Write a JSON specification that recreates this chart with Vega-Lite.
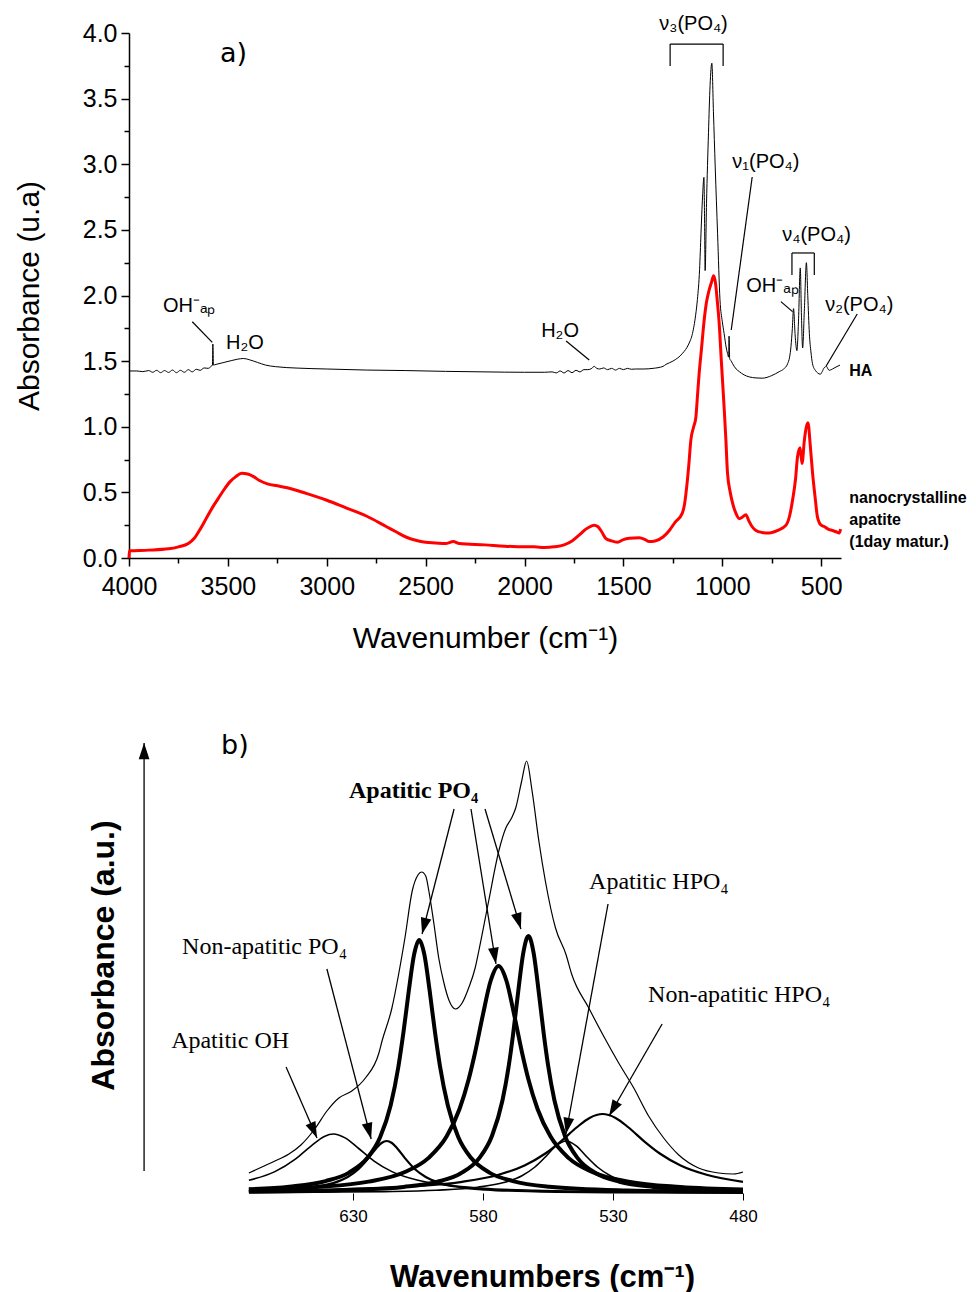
{
  "$schema": "https://vega.github.io/schema/vega-lite/v6.json",
  "background": "white",
  "padding": {"left": 14, "top": 13, "right": 0, "bottom": 0},
  "config": {
    "view": {"stroke": null},
    "font": "Liberation Sans",
    "axis": {"grid": false, "domainColor": "black", "tickColor": "black", "labelColor": "black", "titleColor": "black"}
  },
  "spacing": 185,
  "bounds": "flush",
  "datasets": {
    "ir": [
      {"s":"HA","x":4000,"y":1.425},{"s":"HA","x":3960,"y":1.425},{"s":"HA","x":3930,"y":1.42},{"s":"HA","x":3900,"y":1.428},{"s":"HA","x":3880,"y":1.415},{"s":"HA","x":3860,"y":1.43},{"s":"HA","x":3840,"y":1.412},{"s":"HA","x":3820,"y":1.428},{"s":"HA","x":3800,"y":1.414},{"s":"HA","x":3780,"y":1.432},{"s":"HA","x":3760,"y":1.412},{"s":"HA","x":3740,"y":1.43},{"s":"HA","x":3720,"y":1.415},{"s":"HA","x":3700,"y":1.435},{"s":"HA","x":3680,"y":1.418},{"s":"HA","x":3660,"y":1.438},{"s":"HA","x":3640,"y":1.43},{"s":"HA","x":3620,"y":1.448},{"s":"HA","x":3600,"y":1.445},{"s":"HA","x":3585,"y":1.46},{"s":"HA","x":3578,"y":1.47},{"s":"HA","x":3576,"y":1.63},{"s":"HA","x":3573,"y":1.47},{"s":"HA","x":3560,"y":1.475},{"s":"HA","x":3520,"y":1.49},{"s":"HA","x":3480,"y":1.505},{"s":"HA","x":3450,"y":1.515},{"s":"HA","x":3420,"y":1.52},{"s":"HA","x":3390,"y":1.51},{"s":"HA","x":3350,"y":1.49},{"s":"HA","x":3310,"y":1.47},{"s":"HA","x":3260,"y":1.458},{"s":"HA","x":3150,"y":1.447},{"s":"HA","x":3000,"y":1.44},{"s":"HA","x":2800,"y":1.432},{"s":"HA","x":2600,"y":1.428},{"s":"HA","x":2400,"y":1.422},{"s":"HA","x":2200,"y":1.418},{"s":"HA","x":2000,"y":1.415},{"s":"HA","x":1900,"y":1.415},{"s":"HA","x":1860,"y":1.418},{"s":"HA","x":1840,"y":1.41},{"s":"HA","x":1820,"y":1.425},{"s":"HA","x":1800,"y":1.41},{"s":"HA","x":1780,"y":1.428},{"s":"HA","x":1760,"y":1.412},{"s":"HA","x":1740,"y":1.43},{"s":"HA","x":1720,"y":1.418},{"s":"HA","x":1700,"y":1.435},{"s":"HA","x":1680,"y":1.435},{"s":"HA","x":1660,"y":1.445},{"s":"HA","x":1648,"y":1.46},{"s":"HA","x":1635,"y":1.445},{"s":"HA","x":1620,"y":1.44},{"s":"HA","x":1600,"y":1.448},{"s":"HA","x":1580,"y":1.435},{"s":"HA","x":1560,"y":1.445},{"s":"HA","x":1540,"y":1.432},{"s":"HA","x":1520,"y":1.445},{"s":"HA","x":1500,"y":1.435},{"s":"HA","x":1480,"y":1.445},{"s":"HA","x":1460,"y":1.438},{"s":"HA","x":1440,"y":1.44},{"s":"HA","x":1400,"y":1.44},{"s":"HA","x":1350,"y":1.445},{"s":"HA","x":1300,"y":1.46},{"s":"HA","x":1285,"y":1.475},{"s":"HA","x":1250,"y":1.5},{"s":"HA","x":1201,"y":1.56},{"s":"HA","x":1170,"y":1.63},{"s":"HA","x":1151,"y":1.71},{"s":"HA","x":1135,"y":1.85},{"s":"HA","x":1126,"y":1.97},{"s":"HA","x":1115,"y":2.2},{"s":"HA","x":1108,"y":2.47},{"s":"HA","x":1100,"y":2.75},{"s":"HA","x":1093,"y":2.9},{"s":"HA","x":1090,"y":2.6},{"s":"HA","x":1087,"y":2.19},{"s":"HA","x":1080,"y":2.7},{"s":"HA","x":1070,"y":3.24},{"s":"HA","x":1062,"y":3.6},{"s":"HA","x":1053,"y":3.77},{"s":"HA","x":1045,"y":3.4},{"s":"HA","x":1036,"y":2.98},{"s":"HA","x":1024,"y":2.47},{"s":"HA","x":1012,"y":1.97},{"s":"HA","x":1000,"y":1.8},{"s":"HA","x":991,"y":1.71},{"s":"HA","x":980,"y":1.6},{"s":"HA","x":974,"y":1.56},{"s":"HA","x":968,"y":1.53},{"s":"HA","x":966,"y":1.69},{"s":"HA","x":963,"y":1.52},{"s":"HA","x":955,"y":1.5},{"s":"HA","x":948,"y":1.48},{"s":"HA","x":930,"y":1.44},{"s":"HA","x":914,"y":1.42},{"s":"HA","x":890,"y":1.395},{"s":"HA","x":864,"y":1.38},{"s":"HA","x":830,"y":1.372},{"s":"HA","x":798,"y":1.37},{"s":"HA","x":750,"y":1.39},{"s":"HA","x":712,"y":1.42},{"s":"HA","x":690,"y":1.44},{"s":"HA","x":670,"y":1.48},{"s":"HA","x":660,"y":1.53},{"s":"HA","x":653,"y":1.61},{"s":"HA","x":646,"y":1.75},{"s":"HA","x":640,"y":1.9},{"s":"HA","x":632,"y":1.7},{"s":"HA","x":623,"y":1.58},{"s":"HA","x":615,"y":1.8},{"s":"HA","x":606,"y":2.21},{"s":"HA","x":600,"y":1.85},{"s":"HA","x":594,"y":1.6},{"s":"HA","x":585,"y":1.9},{"s":"HA","x":575,"y":2.25},{"s":"HA","x":568,"y":2.0},{"s":"HA","x":560,"y":1.71},{"s":"HA","x":552,"y":1.57},{"s":"HA","x":544,"y":1.48},{"s":"HA","x":530,"y":1.43},{"s":"HA","x":518,"y":1.41},{"s":"HA","x":505,"y":1.4},{"s":"HA","x":495,"y":1.42},{"s":"HA","x":485,"y":1.45},{"s":"HA","x":473,"y":1.46},{"s":"HA","x":466,"y":1.44},{"s":"HA","x":459,"y":1.43},{"s":"HA","x":450,"y":1.435},{"s":"HA","x":443,"y":1.44},{"s":"HA","x":425,"y":1.455},{"s":"HA","x":405,"y":1.47},
      {"s":"nano","x":4000,"y":0.0},{"s":"nano","x":3998,"y":0.055},{"s":"nano","x":3900,"y":0.06},{"s":"nano","x":3800,"y":0.07},{"s":"nano","x":3750,"y":0.085},{"s":"nano","x":3700,"y":0.11},{"s":"nano","x":3670,"y":0.15},{"s":"nano","x":3640,"y":0.22},{"s":"nano","x":3610,"y":0.3},{"s":"nano","x":3580,"y":0.38},{"s":"nano","x":3550,"y":0.45},{"s":"nano","x":3520,"y":0.52},{"s":"nano","x":3490,"y":0.58},{"s":"nano","x":3460,"y":0.62},{"s":"nano","x":3430,"y":0.645},{"s":"nano","x":3400,"y":0.64},{"s":"nano","x":3370,"y":0.62},{"s":"nano","x":3340,"y":0.59},{"s":"nano","x":3300,"y":0.565},{"s":"nano","x":3250,"y":0.55},{"s":"nano","x":3200,"y":0.535},{"s":"nano","x":3100,"y":0.49},{"s":"nano","x":3000,"y":0.44},{"s":"nano","x":2900,"y":0.38},{"s":"nano","x":2800,"y":0.32},{"s":"nano","x":2700,"y":0.24},{"s":"nano","x":2650,"y":0.2},{"s":"nano","x":2600,"y":0.16},{"s":"nano","x":2550,"y":0.135},{"s":"nano","x":2500,"y":0.12},{"s":"nano","x":2450,"y":0.115},{"s":"nano","x":2400,"y":0.11},{"s":"nano","x":2360,"y":0.125},{"s":"nano","x":2330,"y":0.11},{"s":"nano","x":2200,"y":0.1},{"s":"nano","x":2100,"y":0.09},{"s":"nano","x":2000,"y":0.085},{"s":"nano","x":1950,"y":0.085},{"s":"nano","x":1900,"y":0.08},{"s":"nano","x":1850,"y":0.085},{"s":"nano","x":1800,"y":0.1},{"s":"nano","x":1760,"y":0.13},{"s":"nano","x":1720,"y":0.18},{"s":"nano","x":1690,"y":0.22},{"s":"nano","x":1660,"y":0.245},{"s":"nano","x":1648,"y":0.25},{"s":"nano","x":1630,"y":0.24},{"s":"nano","x":1610,"y":0.2},{"s":"nano","x":1590,"y":0.15},{"s":"nano","x":1560,"y":0.13},{"s":"nano","x":1530,"y":0.12},{"s":"nano","x":1500,"y":0.14},{"s":"nano","x":1470,"y":0.15},{"s":"nano","x":1420,"y":0.155},{"s":"nano","x":1390,"y":0.14},{"s":"nano","x":1370,"y":0.125},{"s":"nano","x":1340,"y":0.13},{"s":"nano","x":1300,"y":0.16},{"s":"nano","x":1268,"y":0.21},{"s":"nano","x":1240,"y":0.27},{"s":"nano","x":1203,"y":0.34},{"s":"nano","x":1190,"y":0.42},{"s":"nano","x":1184,"y":0.49},{"s":"nano","x":1170,"y":0.7},{"s":"nano","x":1159,"y":0.9},{"s":"nano","x":1145,"y":1.0},{"s":"nano","x":1134,"y":1.07},{"s":"nano","x":1125,"y":1.25},{"s":"nano","x":1117,"y":1.41},{"s":"nano","x":1105,"y":1.6},{"s":"nano","x":1092,"y":1.81},{"s":"nano","x":1080,"y":1.95},{"s":"nano","x":1067,"y":2.04},{"s":"nano","x":1055,"y":2.1},{"s":"nano","x":1044,"y":2.15},{"s":"nano","x":1035,"y":2.1},{"s":"nano","x":1025,"y":1.95},{"s":"nano","x":1016,"y":1.79},{"s":"nano","x":1005,"y":1.5},{"s":"nano","x":991,"y":1.15},{"s":"nano","x":982,"y":0.9},{"s":"nano","x":974,"y":0.65},{"s":"nano","x":960,"y":0.5},{"s":"nano","x":945,"y":0.4},{"s":"nano","x":931,"y":0.34},{"s":"nano","x":914,"y":0.3},{"s":"nano","x":900,"y":0.31},{"s":"nano","x":881,"y":0.33},{"s":"nano","x":865,"y":0.28},{"s":"nano","x":850,"y":0.24},{"s":"nano","x":830,"y":0.21},{"s":"nano","x":800,"y":0.195},{"s":"nano","x":763,"y":0.19},{"s":"nano","x":720,"y":0.21},{"s":"nano","x":678,"y":0.25},{"s":"nano","x":660,"y":0.32},{"s":"nano","x":645,"y":0.44},{"s":"nano","x":630,"y":0.6},{"s":"nano","x":620,"y":0.77},{"s":"nano","x":607,"y":0.84},{"s":"nano","x":597,"y":0.72},{"s":"nano","x":585,"y":0.9},{"s":"nano","x":567,"y":1.03},{"s":"nano","x":555,"y":0.85},{"s":"nano","x":544,"y":0.65},{"s":"nano","x":530,"y":0.45},{"s":"nano","x":520,"y":0.32},{"s":"nano","x":510,"y":0.27},{"s":"nano","x":500,"y":0.25},{"s":"nano","x":485,"y":0.24},{"s":"nano","x":465,"y":0.22},{"s":"nano","x":444,"y":0.21},{"s":"nano","x":425,"y":0.2},{"s":"nano","x":409,"y":0.19},{"s":"nano","x":402,"y":0.22}
    ],
    "topText": [
      {"x":3828,"y":1.874,"t":"OH⁻ₐₚ"},
      {"x":3509,"y":1.592,"t":"H₂O"},
      {"x":1916,"y":1.684,"t":"H₂O"},
      {"x":1319,"y":4.023,"t":"ν₃(PO₄)"},
      {"x":950,"y":2.971,"t":"ν₁(PO₄)"},
      {"x":697,"y":2.415,"t":"ν₄(PO₄)"},
      {"x":879,"y":2.027,"t":"OH⁻ₐₚ"},
      {"x":480,"y":1.882,"t":"ν₂(PO₄)"}
    ],
    "topBold": [
      {"x":358,"y":1.387,"t":"HA"},
      {"x":358,"y":0.419,"t":"nanocrystalline\napatite\n(1day matur.)"}
    ],
    "topRules": [
      {"x":3680,"y":1.8,"x2":3579,"y2":1.643},
      {"x":1790,"y":1.653,"x2":1673,"y2":1.509},
      {"x":849,"y":2.903,"x2":955,"y2":1.737},
      {"x":704,"y":1.953,"x2":645,"y2":1.877},
      {"x":318,"y":1.859,"x2":475,"y2":1.463},
      {"x":1264,"y":3.916,"x2":996,"y2":3.916},
      {"x":1264,"y":3.749,"x2":1264,"y2":3.916},
      {"x":996,"y":3.749,"x2":996,"y2":3.916},
      {"x":648,"y":2.324,"x2":535,"y2":2.324},
      {"x":648,"y":2.156,"x2":648,"y2":2.324},
      {"x":535,"y":2.156,"x2":535,"y2":2.324}
    ],
    "topPanel": [{"x":3540,"y":3.779,"t":"a)"}],
    "fit": [
      {"c":"env","x":670,"y":0.2},{"c":"env","x":665,"y":0.26},{"c":"env","x":660,"y":0.32},{"c":"env","x":654.6,"y":0.39},{"c":"env","x":650,"y":0.48},{"c":"env","x":644.4,"y":0.65},{"c":"env","x":640,"y":0.82},{"c":"env","x":635.4,"y":0.95},{"c":"env","x":630.4,"y":1.02},{"c":"env","x":625.2,"y":1.15},{"c":"env","x":620,"y":1.4},{"c":"env","x":618.8,"y":1.52},{"c":"env","x":615,"y":1.85},{"c":"env","x":612.4,"y":2.19},{"c":"env","x":610,"y":2.55},{"c":"env","x":607.2,"y":3.02},{"c":"env","x":605,"y":3.18},{"c":"env","x":603.6,"y":3.21},{"c":"env","x":602,"y":3.17},{"c":"env","x":600.8,"y":3.02},{"c":"env","x":599,"y":2.72},{"c":"env","x":597,"y":2.35},{"c":"env","x":595,"y":2.1},{"c":"env","x":593.1,"y":1.93},{"c":"env","x":590.6,"y":1.84},{"c":"env","x":588,"y":1.9},{"c":"env","x":585.5,"y":2.05},{"c":"env","x":583,"y":2.25},{"c":"env","x":581.6,"y":2.42},{"c":"env","x":577.8,"y":2.92},{"c":"env","x":573.9,"y":3.42},{"c":"env","x":571.2,"y":3.65},{"c":"env","x":569,"y":3.75},{"c":"env","x":567.4,"y":3.85},{"c":"env","x":565.1,"y":4.12},{"c":"env","x":563.2,"y":4.32},{"c":"env","x":561.1,"y":4.02},{"c":"env","x":558.5,"y":3.52},{"c":"env","x":556,"y":3.12},{"c":"env","x":552.1,"y":2.65},{"c":"env","x":548,"y":2.38},{"c":"env","x":545.9,"y":2.19},{"c":"env","x":539.3,"y":1.85},{"c":"env","x":533.2,"y":1.55},{"c":"env","x":527.8,"y":1.3},{"c":"env","x":522,"y":1.05},{"c":"env","x":516.3,"y":0.77},{"c":"env","x":510.5,"y":0.55},{"c":"env","x":504.7,"y":0.38},{"c":"env","x":497.1,"y":0.25},{"c":"env","x":489.4,"y":0.2},{"c":"env","x":483.6,"y":0.19},{"c":"env","x":480,"y":0.21},
      {"c":"ohAp","x":670,"y":0.127},{"c":"ohAp","x":660,"y":0.214},{"c":"ohAp","x":652,"y":0.342},{"c":"ohAp","x":646,"y":0.472},{"c":"ohAp","x":641,"y":0.566},{"c":"ohAp","x":637.5,"y":0.59},{"c":"ohAp","x":633,"y":0.551},{"c":"ohAp","x":628,"y":0.45},{"c":"ohAp","x":622,"y":0.322},{"c":"ohAp","x":615,"y":0.214},{"c":"ohAp","x":605,"y":0.127},{"c":"ohAp","x":595,"y":0.081},{"c":"ohAp","x":580,"y":0.047},{"c":"ohAp","x":560,"y":0.027},{"c":"ohAp","x":540,"y":0.017},{"c":"ohAp","x":510,"y":0.01},{"c":"ohAp","x":480,"y":0.007},
      {"c":"nonApPO4","x":670,"y":0.018},{"c":"nonApPO4","x":655,"y":0.034},{"c":"nonApPO4","x":645,"y":0.059},{"c":"nonApPO4","x":637,"y":0.104},{"c":"nonApPO4","x":632,"y":0.16},{"c":"nonApPO4","x":628,"y":0.235},{"c":"nonApPO4","x":624,"y":0.349},{"c":"nonApPO4","x":621,"y":0.448},{"c":"nonApPO4","x":619,"y":0.5},{"c":"nonApPO4","x":617,"y":0.52},{"c":"nonApPO4","x":615,"y":0.5},{"c":"nonApPO4","x":613,"y":0.448},{"c":"nonApPO4","x":610,"y":0.349},{"c":"nonApPO4","x":606,"y":0.235},{"c":"nonApPO4","x":602,"y":0.16},{"c":"nonApPO4","x":597,"y":0.104},{"c":"nonApPO4","x":589,"y":0.059},{"c":"nonApPO4","x":579,"y":0.034},{"c":"nonApPO4","x":560,"y":0.016},{"c":"nonApPO4","x":530,"y":0.007},{"c":"nonApPO4","x":480,"y":0.003},
      {"c":"apPO4a","x":670,"y":0.037},{"c":"apPO4a","x":654.5,"y":0.063},{"c":"apPO4a","x":640.5,"y":0.119},{"c":"apPO4a","x":631.5,"y":0.204},{"c":"apPO4a","x":624.5,"y":0.349},{"c":"apPO4a","x":619.5,"y":0.56},{"c":"apPO4a","x":615.5,"y":0.875},{"c":"apPO4a","x":612.5,"y":1.265},{"c":"apPO4a","x":610.5,"y":1.619},{"c":"apPO4a","x":608.5,"y":2.024},{"c":"apPO4a","x":606.5,"y":2.381},{"c":"apPO4a","x":604.5,"y":2.53},{"c":"apPO4a","x":602.5,"y":2.381},{"c":"apPO4a","x":600.5,"y":2.024},{"c":"apPO4a","x":598.5,"y":1.619},{"c":"apPO4a","x":596.5,"y":1.265},{"c":"apPO4a","x":593.5,"y":0.875},{"c":"apPO4a","x":589.5,"y":0.56},{"c":"apPO4a","x":584.5,"y":0.349},{"c":"apPO4a","x":577.5,"y":0.204},{"c":"apPO4a","x":568.5,"y":0.119},{"c":"apPO4a","x":554.5,"y":0.063},{"c":"apPO4a","x":524.5,"y":0.025},{"c":"apPO4a","x":504.5,"y":0.016},{"c":"apPO4a","x":480,"y":0.01},
      {"c":"apPO4b","x":670,"y":0.032},{"c":"apPO4b","x":644,"y":0.06},{"c":"apPO4b","x":624,"y":0.114},{"c":"apPO4b","x":610,"y":0.21},{"c":"apPO4b","x":601,"y":0.349},{"c":"apPO4b","x":594,"y":0.564},{"c":"apPO4b","x":589,"y":0.84},{"c":"apPO4b","x":585.5,"y":1.135},{"c":"apPO4b","x":583,"y":1.408},{"c":"apPO4b","x":580,"y":1.784},{"c":"apPO4b","x":577,"y":2.125},{"c":"apPO4b","x":574,"y":2.27},{"c":"apPO4b","x":571,"y":2.125},{"c":"apPO4b","x":568,"y":1.784},{"c":"apPO4b","x":565,"y":1.408},{"c":"apPO4b","x":562.5,"y":1.135},{"c":"apPO4b","x":559,"y":0.84},{"c":"apPO4b","x":554,"y":0.564},{"c":"apPO4b","x":547,"y":0.349},{"c":"apPO4b","x":538,"y":0.21},{"c":"apPO4b","x":524,"y":0.114},{"c":"apPO4b","x":504,"y":0.06},{"c":"apPO4b","x":480,"y":0.034},
      {"c":"apPO4c","x":670,"y":0.0125},{"c":"apPO4c","x":645,"y":0.021},{"c":"apPO4c","x":627.5,"y":0.034},{"c":"apPO4c","x":610.5,"y":0.061},{"c":"apPO4c","x":597.5,"y":0.113},{"c":"apPO4c","x":588.5,"y":0.197},{"c":"apPO4c","x":581.5,"y":0.346},{"c":"apPO4c","x":576.5,"y":0.573},{"c":"apPO4c","x":572.5,"y":0.925},{"c":"apPO4c","x":570,"y":1.285},{"c":"apPO4c","x":568.5,"y":1.567},{"c":"apPO4c","x":566.5,"y":2.001},{"c":"apPO4c","x":564.5,"y":2.399},{"c":"apPO4c","x":562.5,"y":2.57},{"c":"apPO4c","x":560.5,"y":2.399},{"c":"apPO4c","x":558.5,"y":2.001},{"c":"apPO4c","x":556.5,"y":1.567},{"c":"apPO4c","x":555,"y":1.285},{"c":"apPO4c","x":552.5,"y":0.925},{"c":"apPO4c","x":548.5,"y":0.573},{"c":"apPO4c","x":543.5,"y":0.346},{"c":"apPO4c","x":536.5,"y":0.197},{"c":"apPO4c","x":527.5,"y":0.113},{"c":"apPO4c","x":514.5,"y":0.061},{"c":"apPO4c","x":497.5,"y":0.034},{"c":"apPO4c","x":480,"y":0.021},
      {"c":"apHPO4","x":670,"y":0.005},{"c":"apHPO4","x":643,"y":0.008},{"c":"apHPO4","x":618,"y":0.014},{"c":"apHPO4","x":598,"y":0.028},{"c":"apHPO4","x":582,"y":0.058},{"c":"apHPO4","x":572,"y":0.104},{"c":"apHPO4","x":565,"y":0.173},{"c":"apHPO4","x":560,"y":0.26},{"c":"apHPO4","x":556,"y":0.36},{"c":"apHPO4","x":552,"y":0.468},{"c":"apHPO4","x":548,"y":0.52},{"c":"apHPO4","x":544,"y":0.468},{"c":"apHPO4","x":540,"y":0.36},{"c":"apHPO4","x":536,"y":0.26},{"c":"apHPO4","x":531,"y":0.173},{"c":"apHPO4","x":524,"y":0.104},{"c":"apHPO4","x":514,"y":0.058},{"c":"apHPO4","x":498,"y":0.028},{"c":"apHPO4","x":480,"y":0.016},
      {"c":"nonApHPO4","x":670,"y":0.02},{"c":"nonApHPO4","x":634,"y":0.037},{"c":"nonApHPO4","x":609,"y":0.063},{"c":"nonApHPO4","x":588,"y":0.112},{"c":"nonApHPO4","x":574,"y":0.183},{"c":"nonApHPO4","x":564,"y":0.276},{"c":"nonApHPO4","x":556,"y":0.395},{"c":"nonApHPO4","x":550,"y":0.517},{"c":"nonApHPO4","x":544,"y":0.655},{"c":"nonApHPO4","x":539,"y":0.751},{"c":"nonApHPO4","x":534,"y":0.79},{"c":"nonApHPO4","x":529,"y":0.751},{"c":"nonApHPO4","x":524,"y":0.655},{"c":"nonApHPO4","x":518,"y":0.517},{"c":"nonApHPO4","x":512,"y":0.395},{"c":"nonApHPO4","x":504,"y":0.276},{"c":"nonApHPO4","x":494,"y":0.183},{"c":"nonApHPO4","x":480,"y":0.112}
    ],
    "arrows": [
      {"x0":655.7,"y0":1.26,"x1":643.8,"y1":0.55},
      {"x0":640.0,"y0":2.24,"x1":623.0,"y1":0.54},
      {"x0":591.1,"y0":3.84,"x1":603.4,"y1":2.59},
      {"x0":584.6,"y0":3.84,"x1":575.0,"y1":2.29},
      {"x0":579.2,"y0":3.84,"x1":565.4,"y1":2.64},
      {"x0":531.9,"y0":2.89,"x1":548.1,"y1":0.59},
      {"x0":511.1,"y0":1.69,"x1":531.5,"y1":0.77},
      {"x0":710.3,"y0":0.22,"x1":710.3,"y1":4.5}
    ],
    "botText": [
      {"x":699.9,"y":1.45,"t":"Apatitic OH"},
      {"x":695.7,"y":2.39,"t":"Non-apatitic PO₄"},
      {"x":539.2,"y":3.04,"t":"Apatitic HPO₄"},
      {"x":516.5,"y":1.91,"t":"Non-apatitic HPO₄"}
    ],
    "botBold": [{"x":631.5,"y":3.95,"t":"Apatitic PO₄"}],
    "botPanel": [{"x":680.7,"y":4.39,"t":"b)"}]
  },
  "vconcat": [
    {
      "width": 712,
      "height": 525,
      "resolve": {"axis": {"x": "independent", "y": "independent"}},
      "layer": [
        {
          "data": {"name": "ir"},
          "transform": [{"filter": "datum.s === 'HA'"}],
          "mark": {"type": "line", "interpolate": "monotone", "color": "black", "strokeWidth": 1},
          "encoding": {
            "x": {"field": "x", "type": "quantitative",
              "scale": {"domain": [400, 4000], "reverse": true, "nice": false, "zero": false},
              "axis": {"orient": "bottom", "values": [4000, 3500, 3000, 2500, 2000, 1500, 1000, 500], "format": "d", "title": "Wavenumber (cm⁻¹)", "labelFontSize": 25, "titleFontSize": 30, "titleFontWeight": "normal", "tickSize": 8, "tickWidth": 1.5, "domainWidth": 1.5, "labelPadding": 8, "titlePadding": 24, "labelFlush": false}},
            "y": {"field": "y", "type": "quantitative",
              "scale": {"domain": [0, 4], "nice": false},
              "axis": {"orient": "left", "values": [0, 0.5, 1, 1.5, 2, 2.5, 3, 3.5, 4], "format": ".1f", "title": "Absorbance (u.a)", "labelFontSize": 25, "titleFontSize": 30, "titleFontWeight": "normal", "tickSize": 8, "tickWidth": 1.5, "domainWidth": 1.5, "labelPadding": 4, "titlePadding": 38, "labelFlush": false}}
          }
        },
        {
          "data": {"name": "ir"},
          "transform": [{"filter": "datum.s === 'nano'"}],
          "mark": {"type": "line", "interpolate": "monotone", "color": "#ff0000", "strokeWidth": 3},
          "encoding": {
            "x": {"field": "x", "type": "quantitative",
              "axis": {"orient": "bottom", "values": [3750, 3250, 2750, 2250, 1750, 1250, 750], "labels": false, "domain": false, "tickSize": 5, "tickWidth": 1.5, "title": null}},
            "y": {"field": "y", "type": "quantitative",
              "axis": {"orient": "left", "values": [0.25, 0.75, 1.25, 1.75, 2.25, 2.75, 3.25, 3.75], "labels": false, "domain": false, "tickSize": 5, "tickWidth": 1.5, "title": null}}
          }
        },
        {
          "data": {"name": "topRules"},
          "mark": {"type": "rule", "color": "black", "strokeWidth": 1.2},
          "encoding": {
            "x": {"field": "x", "type": "quantitative", "axis": null},
            "x2": {"field": "x2"},
            "y": {"field": "y", "type": "quantitative", "axis": null},
            "y2": {"field": "y2"}
          }
        },
        {
          "data": {"name": "topText"},
          "mark": {"type": "text", "align": "left", "baseline": "alphabetic", "fontSize": 20, "font": "Liberation Sans", "color": "black"},
          "encoding": {
            "x": {"field": "x", "type": "quantitative", "axis": null},
            "y": {"field": "y", "type": "quantitative", "axis": null},
            "text": {"field": "t"}
          }
        },
        {
          "data": {"name": "topBold"},
          "mark": {"type": "text", "align": "left", "baseline": "alphabetic", "fontSize": 16, "fontWeight": "bold", "font": "Liberation Sans", "lineBreak": "\n", "lineHeight": 22, "color": "black"},
          "encoding": {
            "x": {"field": "x", "type": "quantitative", "axis": null},
            "y": {"field": "y", "type": "quantitative", "axis": null},
            "text": {"field": "t"}
          }
        },
        {
          "data": {"name": "topPanel"},
          "mark": {"type": "text", "align": "left", "baseline": "alphabetic", "fontSize": 27, "font": "DejaVu Sans", "color": "black"},
          "encoding": {
            "x": {"field": "x", "type": "quantitative", "axis": null},
            "y": {"field": "y", "type": "quantitative", "axis": null},
            "text": {"field": "t"}
          }
        }
      ]
    },
    {
      "width": 614,
      "height": 450,
      "resolve": {"axis": {"x": "independent", "y": "independent"}},
      "layer": [
        {
          "data": {"name": "fit"},
          "transform": [{"filter": "datum.c === 'env'"}],
          "mark": {"type": "line", "interpolate": "monotone", "color": "black", "strokeWidth": 1.2},
          "encoding": {
            "x": {"field": "x", "type": "quantitative",
              "scale": {"domain": [480, 716.1], "reverse": true, "nice": false, "zero": false},
              "axis": {"orient": "bottom", "values": [630, 580, 530, 480], "domain": false, "tickSize": 7, "tickWidth": 1, "labelFontSize": 17, "labelPadding": 8, "labelFlush": false, "title": "Wavenumbers (cm⁻¹)", "titleFontSize": 31, "titleFontWeight": "bold", "titleX": 413, "titleY": 93, "titleBaseline": "alphabetic", "titleAlign": "center"}},
            "y": {"field": "y", "type": "quantitative",
              "scale": {"domain": [0, 4.5], "nice": false},
              "axis": {"orient": "left", "domain": false, "ticks": false, "labels": false, "title": "Absorbance (a.u.)", "titleFontSize": 32, "titleFontWeight": "bold", "titlePadding": 9, "titleY": 212}}
          }
        },
        {
          "data": {"name": "fit"},
          "transform": [{"filter": "datum.c === 'ohAp' || datum.c === 'apHPO4'"}],
          "mark": {"type": "line", "interpolate": "monotone", "color": "black", "strokeWidth": 1.6},
          "encoding": {
            "x": {"field": "x", "type": "quantitative", "axis": null},
            "y": {"field": "y", "type": "quantitative", "axis": null},
            "detail": {"field": "c", "type": "nominal"}
          }
        },
        {
          "data": {"name": "fit"},
          "transform": [{"filter": "datum.c === 'nonApPO4' || datum.c === 'nonApHPO4'"}],
          "mark": {"type": "line", "interpolate": "monotone", "color": "black", "strokeWidth": 2.2},
          "encoding": {
            "x": {"field": "x", "type": "quantitative", "axis": null},
            "y": {"field": "y", "type": "quantitative", "axis": null},
            "detail": {"field": "c", "type": "nominal"}
          }
        },
        {
          "data": {"name": "fit"},
          "transform": [{"filter": "datum.c === 'apPO4a' || datum.c === 'apPO4b' || datum.c === 'apPO4c'"}],
          "mark": {"type": "line", "interpolate": "monotone", "color": "black", "strokeWidth": 4},
          "encoding": {
            "x": {"field": "x", "type": "quantitative", "axis": null},
            "y": {"field": "y", "type": "quantitative", "axis": null},
            "detail": {"field": "c", "type": "nominal"}
          }
        },
        {
          "data": {"name": "arrows"},
          "mark": {"type": "rule", "color": "black", "strokeWidth": 1.3},
          "encoding": {
            "x": {"field": "x0", "type": "quantitative", "axis": null},
            "x2": {"field": "x1"},
            "y": {"field": "y0", "type": "quantitative", "axis": null},
            "y2": {"field": "y1"}
          }
        },
        {
          "data": {"name": "arrows"},
          "transform": [{"calculate": "atan2((datum.x1 - datum.x0) * -2.6006, (datum.y1 - datum.y0) * 100) * 180 / PI", "as": "ang"}],
          "mark": {"type": "point", "shape": "M0,0L-0.38,1.15L0.38,1.15Z", "filled": true, "color": "black", "size": 800, "opacity": 1, "strokeWidth": 0},
          "encoding": {
            "x": {"field": "x1", "type": "quantitative", "axis": null},
            "y": {"field": "y1", "type": "quantitative", "axis": null},
            "angle": {"field": "ang", "type": "quantitative", "scale": null}
          }
        },
        {
          "data": {"name": "botText"},
          "mark": {"type": "text", "align": "left", "baseline": "alphabetic", "fontSize": 24, "font": "Liberation Serif", "color": "black"},
          "encoding": {
            "x": {"field": "x", "type": "quantitative", "axis": null},
            "y": {"field": "y", "type": "quantitative", "axis": null},
            "text": {"field": "t"}
          }
        },
        {
          "data": {"name": "botBold"},
          "mark": {"type": "text", "align": "left", "baseline": "alphabetic", "fontSize": 24, "fontWeight": "bold", "font": "Liberation Serif", "color": "black"},
          "encoding": {
            "x": {"field": "x", "type": "quantitative", "axis": null},
            "y": {"field": "y", "type": "quantitative", "axis": null},
            "text": {"field": "t"}
          }
        },
        {
          "data": {"name": "botPanel"},
          "mark": {"type": "text", "align": "left", "baseline": "alphabetic", "fontSize": 27, "font": "DejaVu Sans", "color": "black"},
          "encoding": {
            "x": {"field": "x", "type": "quantitative", "axis": null},
            "y": {"field": "y", "type": "quantitative", "axis": null},
            "text": {"field": "t"}
          }
        }
      ]
    }
  ]
}
